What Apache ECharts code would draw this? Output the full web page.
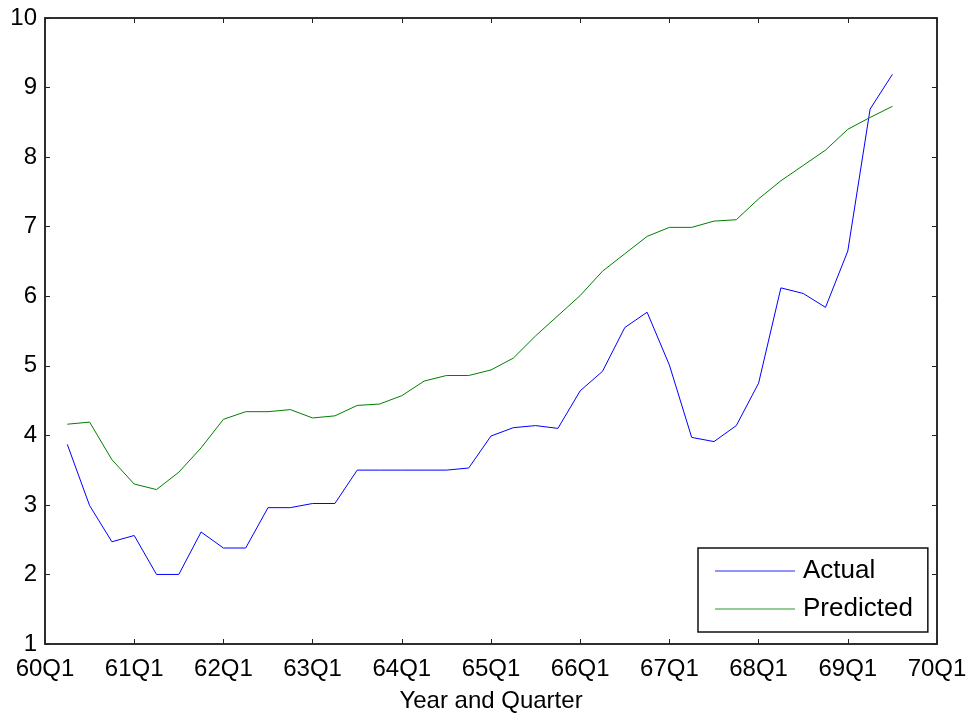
<!DOCTYPE html>
<html>
<head>
<meta charset="utf-8">
<script src="https://cdn.jsdelivr.net/npm/echarts@6/dist/echarts.min.js"></script>
<style>html,body{margin:0;padding:0;background:#fff}#c{width:974px;height:717px}</style>
</head>
<body>
<div id="c"></div>
<script>
// Quarter labels 60Q1 .. 70Q1
const quarters = [];
for (let y = 60; y <= 69; y++) for (let q = 1; q <= 4; q++) quarters.push(y + 'Q' + q);
quarters.push('70Q1');

// Values from 60Q2 to 69Q3 (null where no data)
const actual = [null,
  3.87, 2.99, 2.47,
  2.56, 2.00, 2.00, 2.61,
  2.38, 2.38, 2.96, 2.96,
  3.02, 3.02, 3.50, 3.50,
  3.50, 3.50, 3.50, 3.53,
  3.99, 4.11, 4.14, 4.10,
  4.64, 4.92, 5.55, 5.77,
  5.01, 3.97, 3.91, 4.14,
  4.75, 6.12, 6.04, 5.84,
  6.65, 8.69, 9.19, null, null];
const predicted = [null,
  4.16, 4.19, 3.65,
  3.30, 3.22, 3.47, 3.82,
  4.23, 4.34, 4.34, 4.37,
  4.25, 4.28, 4.43, 4.45,
  4.57, 4.78, 4.86, 4.86,
  4.94, 5.11, 5.43, 5.72,
  6.01, 6.36, 6.61, 6.86,
  6.99, 6.99, 7.08, 7.10,
  7.40, 7.66, 7.88, 8.10,
  8.40, 8.57, 8.73, null, null];

const FONT = 'Liberation Sans, Arial, sans-serif';
const chart = echarts.init(document.getElementById('c'));
const tick = {show: true, inside: true, length: 5, interval: 3, lineStyle: {color: '#222', width: 1}};
chart.setOption({
  animation: false,
  backgroundColor: '#fff',
  grid: {left: 45, top: 18, right: 37, bottom: 73, show: true, borderColor: '#222', borderWidth: 1.5,
         containLabel: false, outerBoundsMode: 'none'},
  legend: {
    orient: 'vertical', left: 698, top: 548,
    backgroundColor: '#fff', borderColor: '#111', borderWidth: 1.5,
    padding: [10, 15, 10, 17], itemGap: 12,
    icon: 'rect', itemWidth: 80, itemHeight: 1.5,
    textStyle: {fontFamily: FONT, fontSize: 26, color: '#000', padding: [4, 0, 0, 3]},
    data: ['Actual', 'Predicted']
  },
  xAxis: [{
    type: 'category', data: quarters, boundaryGap: false, position: 'bottom',
    name: 'Year and Quarter', nameLocation: 'middle', nameGap: 45,
    nameTextStyle: {fontFamily: FONT, fontSize: 24, color: '#000'},
    axisLine: {show: true, lineStyle: {color: '#222', width: 1.5}},
    axisTick: tick,
    axisLabel: {interval: 3, fontFamily: FONT, fontSize: 24, color: '#000', margin: 13},
    splitLine: {show: false}
  }, {
    type: 'category', data: quarters, boundaryGap: false, position: 'top',
    axisLine: {show: true, lineStyle: {color: '#222', width: 1.5}},
    axisTick: tick, axisLabel: {show: false}, splitLine: {show: false}
  }],
  yAxis: [{
    type: 'value', min: 1, max: 10, interval: 1, position: 'left',
    axisLine: {show: true, lineStyle: {color: '#222', width: 1.5}},
    axisTick: {show: true, inside: true, length: 5, lineStyle: {color: '#222'}},
    axisLabel: {fontFamily: FONT, fontSize: 24, color: '#000', margin: 8},
    splitLine: {show: false}
  }, {
    type: 'value', min: 1, max: 10, interval: 1, position: 'right',
    axisLine: {show: true, lineStyle: {color: '#222', width: 1.5}},
    axisTick: {show: true, inside: true, length: 5, lineStyle: {color: '#222'}},
    axisLabel: {show: false}, splitLine: {show: false}
  }],
  series: [{
    name: 'Actual', type: 'line', data: actual, showSymbol: false, symbol: 'none',
    lineStyle: {color: '#0000ff', width: 1}, itemStyle: {color: '#6f6fff'}
  }, {
    name: 'Predicted', type: 'line', data: predicted, showSymbol: false, symbol: 'none',
    lineStyle: {color: '#008000', width: 1}, itemStyle: {color: '#70b870'}
  }]
});
</script>
</body>
</html>
